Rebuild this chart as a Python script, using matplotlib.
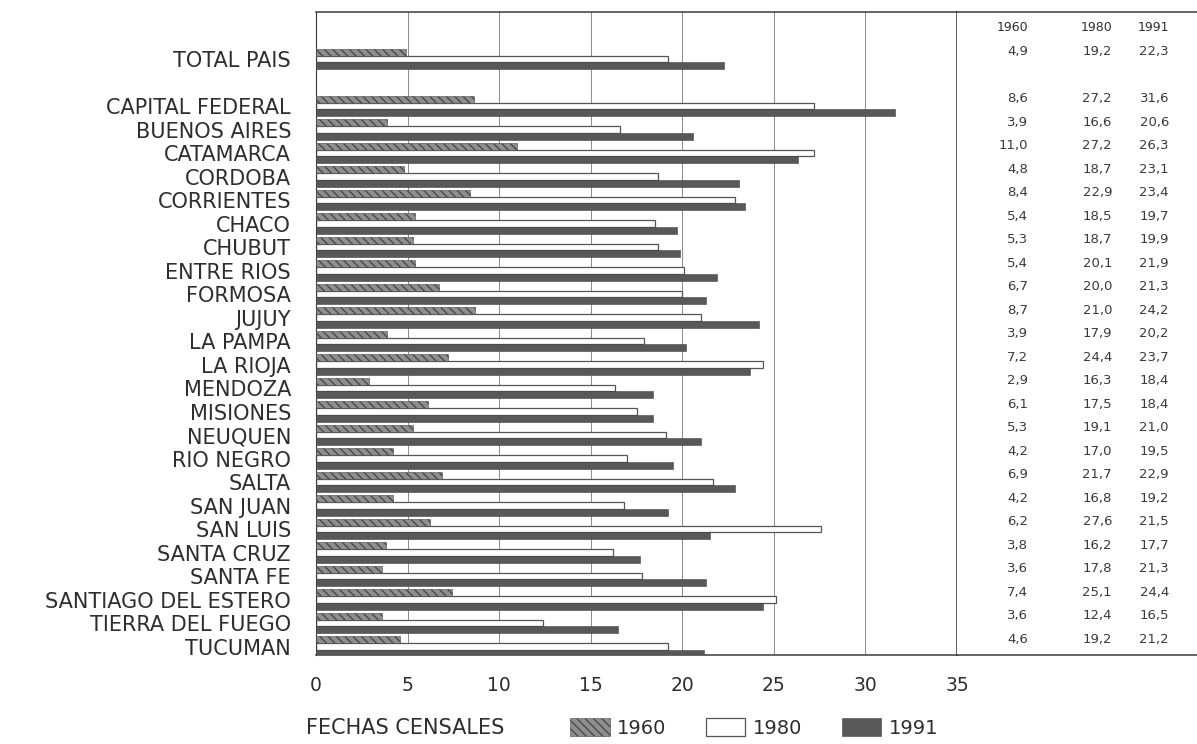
import matplotlib
matplotlib.use("Agg")
import matplotlib.pyplot as plt
from matplotlib.patches import Patch

# datos por provincia, censos 1960 / 1980 / 1991
provincias = ["TOTAL PAIS", "",
              "CAPITAL FEDERAL", "BUENOS AIRES", "CATAMARCA", "CORDOBA",
              "CORRIENTES", "CHACO", "CHUBUT", "ENTRE RIOS", "FORMOSA",
              "JUJUY", "LA PAMPA", "LA RIOJA", "MENDOZA", "MISIONES",
              "NEUQUEN", "RIO NEGRO", "SALTA", "SAN JUAN", "SAN LUIS",
              "SANTA CRUZ", "SANTA FE", "SANTIAGO DEL ESTERO",
              "TIERRA DEL FUEGO", "TUCUMAN"]
v1960 = [4.9, None, 8.6, 3.9, 11.0, 4.8, 8.4, 5.4, 5.3, 5.4, 6.7, 8.7, 3.9,
         7.2, 2.9, 6.1, 5.3, 4.2, 6.9, 4.2, 6.2, 3.8, 3.6, 7.4, 3.6, 4.6]
v1980 = [19.2, None, 27.2, 16.6, 27.2, 18.7, 22.9, 18.5, 18.7, 20.1, 20.0,
         21.0, 17.9, 24.4, 16.3, 17.5, 19.1, 17.0, 21.7, 16.8, 27.6, 16.2,
         17.8, 25.1, 12.4, 19.2]
v1991 = [22.3, None, 31.6, 20.6, 26.3, 23.1, 23.4, 19.7, 19.9, 21.9, 21.3,
         24.2, 20.2, 23.7, 18.4, 18.4, 21.0, 19.5, 22.9, 19.2, 21.5, 17.7,
         21.3, 24.4, 16.5, 21.2]
anios = ["1960", "1980", "1991"]
ticks_x = [0, 5, 10, 15, 20, 25, 30, 35]

plt.rcParams['font.family'] = ['DejaVu Sans']
txt = '#2e2e2e'

fig = plt.figure(figsize=(11.97, 7.44), dpi=100)
W, H = 1197, 744
y_bot, y_top = 655, 12
ax = fig.add_axes([316 / W, 1 - y_bot / H, (957 - 316) / W, (y_bot - y_top) / H])
tab = fig.add_axes([957 / W, 1 - y_bot / H, (W - 957) / W, (y_bot - y_top) / H])

filas = [i for i, v in enumerate(v1960) if v is not None]
x60 = [v1960[i] for i in filas]
x80 = [v1980[i] for i in filas]
x91 = [v1991[i] for i in filas]

c60, c91 = '#8e8e8e', '#585858'
ax.barh([i - 0.28 for i in filas], x60, height=0.30, color=c60,
        edgecolor='#4a4a4a', hatch='\\\\\\\\', linewidth=0.4, zorder=3)
ax.barh(filas, x80, height=0.26, color='white', edgecolor='#555555',
        linewidth=0.9, zorder=2)
ax.barh([i + 0.28 for i in filas], x91, height=0.30, color=c91,
        edgecolor='#444444', linewidth=0.4, zorder=3)

ax.set_xlim(0, 35)
ax.set_ylim(25.36, -2.0)
ax.set_yticks(range(len(provincias)))
ax.set_yticklabels(provincias, fontsize=15, color=txt)
ax.set_xticks(ticks_x)
ax.set_xticklabels([str(t) for t in ticks_x], fontsize=13.5, color=txt)
ax.tick_params(axis='both', length=0)
ax.tick_params(axis='y', pad=18)
ax.tick_params(axis='x', pad=15)
for xg in ticks_x[1:-1]:
    ax.axvline(xg, color='#8a8a8a', linewidth=0.7, zorder=1)
for s in ['top', 'bottom', 'left', 'right']:
    ax.spines[s].set_color('#3a3a3a')
    ax.spines[s].set_linewidth(1.1)
ax.spines['left'].set_linewidth(0.8)

# tabla de valores a la derecha
tab.set_xlim(957, W)
tab.set_ylim(25.36, -2.0)
tab.set_xticks([])
tab.set_yticks([])
tab.spines['left'].set_visible(False)
tab.spines['right'].set_visible(False)
for s in ['top', 'bottom']:
    tab.spines[s].set_color('#3a3a3a')
    tab.spines[s].set_linewidth(1.1)
cols_x = [1028, 1112, 1169]
for cx, a in zip(cols_x, anios):
    tab.text(cx, -1.36, a, ha='right', va='center', fontsize=9, color=txt)
for i in filas:
    for cx, serie in zip(cols_x, [v1960, v1980, v1991]):
        tab.text(cx, i - 0.3, f"{serie[i]:.1f}".replace('.', ','),
                 ha='right', va='center', fontsize=9.5, color='#3a3a3a')

# leyenda
fig.text(405 / W, 1 - 728 / H, "FECHAS CENSALES", fontsize=15, color=txt,
         ha='center', va='center')
handles = [Patch(facecolor=c60, edgecolor='#4a4a4a', hatch='\\\\\\\\', linewidth=0.4),
           Patch(facecolor='white', edgecolor='#555555', linewidth=0.9),
           Patch(facecolor=c91, edgecolor='#444444', linewidth=0.4)]
fig.legend(handles, anios, loc='center left', bbox_to_anchor=(560 / W, 1 - 728 / H),
           ncol=3, frameon=False, fontsize=14, handlelength=2.05, handleheight=1.0,
           handletextpad=0.4, columnspacing=2.0, borderpad=0, labelcolor=txt)

fig.savefig("out.png", dpi=100)
